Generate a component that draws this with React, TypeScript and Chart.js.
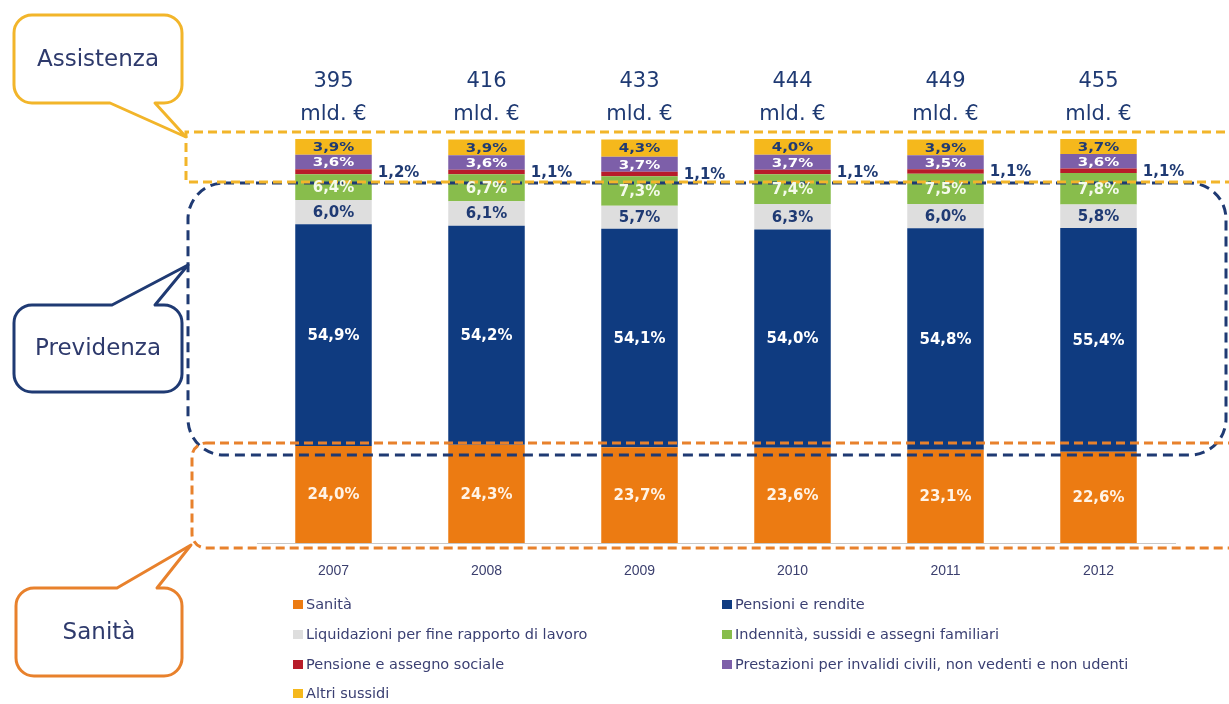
import React, { useEffect, useRef } from 'react';
import { Chart, registerables } from 'chart.js';

Chart.register(...registerables);

// ---- data ----
const years = ['2007', '2008', '2009', '2010', '2011', '2012'];
const totals = [395, 416, 433, 444, 449, 455];
const totalUnit = 'mld. €';

const sanita = [24.0, 24.3, 23.7, 23.6, 23.1, 22.6];
const pensioni = [54.9, 54.2, 54.1, 54.0, 54.8, 55.4];
const liquidazioni = [6.0, 6.1, 5.7, 6.3, 6.0, 5.8];
const indennita = [6.4, 6.7, 7.3, 7.4, 7.5, 7.8];
const pensioneSociale = [1.2, 1.1, 1.1, 1.1, 1.1, 1.1];
const prestazioni = [3.6, 3.6, 3.7, 3.7, 3.5, 3.6];
const altri = [3.9, 3.9, 4.3, 4.0, 3.9, 3.7];

const seriesNames = [
  'Sanità',
  'Pensioni e rendite',
  'Liquidazioni per fine rapporto di lavoro',
  'Indennità, sussidi e assegni familiari',
  'Pensione e assegno sociale',
  'Prestazioni per invalidi civili, non vedenti e non udenti',
  'Altri sussidi',
];
const calloutTexts = ['Assistenza', 'Previdenza', 'Sanità'];

// ---- styles ----
const NAVY = '#1F3A73';
const TEXT_NAVY = '#2E3A6C';
const YELLOW_LINE = '#F2B52A';
const ORANGE_LINE = '#E8812C';
const FONT = '"DejaVu Sans", Verdana, sans-serif';

const fmt = (v: number) => v.toFixed(1).replace('.', ',') + '%';

function roundRectPath(ctx: CanvasRenderingContext2D, x: number, y: number, w: number, h: number, r: number) {
  ctx.beginPath();
  ctx.moveTo(x + r, y);
  ctx.lineTo(x + w - r, y);
  ctx.arcTo(x + w, y, x + w, y + r, r);
  ctx.lineTo(x + w, y + h - r);
  ctx.arcTo(x + w, y + h, x + w - r, y + h, r);
  ctx.lineTo(x + r, y + h);
  ctx.arcTo(x, y + h, x, y + h - r, r);
  ctx.lineTo(x, y + r);
  ctx.arcTo(x, y, x + r, y, r);
  ctx.closePath();
}

function callout(
  ctx: CanvasRenderingContext2D,
  x: number, y: number, w: number, h: number, r: number,
  side: 'top' | 'bottom', t1: number, t2: number, tipX: number, tipY: number,
  color: string, text: string
) {
  ctx.save();
  ctx.beginPath();
  ctx.moveTo(x + r, y);
  if (side === 'top') {
    ctx.lineTo(t1, y);
    ctx.lineTo(tipX, tipY);
    ctx.lineTo(t2, y);
  }
  ctx.lineTo(x + w - r, y);
  ctx.arcTo(x + w, y, x + w, y + r, r);
  ctx.lineTo(x + w, y + h - r);
  ctx.arcTo(x + w, y + h, x + w - r, y + h, r);
  if (side === 'bottom') {
    ctx.lineTo(t2, y + h);
    ctx.lineTo(tipX, tipY);
    ctx.lineTo(t1, y + h);
  }
  ctx.lineTo(x + r, y + h);
  ctx.arcTo(x, y + h, x, y + h - r, r);
  ctx.lineTo(x, y + r);
  ctx.arcTo(x, y, x + r, y, r);
  ctx.closePath();
  ctx.fillStyle = '#ffffff';
  ctx.fill();
  ctx.lineWidth = 3;
  ctx.lineJoin = 'round';
  ctx.strokeStyle = color;
  ctx.setLineDash([]);
  ctx.stroke();
  ctx.fillStyle = TEXT_NAVY;
  ctx.font = `23px ${FONT}`;
  ctx.textAlign = 'center';
  ctx.textBaseline = 'middle';
  ctx.fillText(text, x + w / 2, y + h / 2 + 1);
  ctx.restore();
}

const overlayPlugin = {
  id: 'overlay',
  afterDatasetsDraw(chart: any) {
    const ctx: CanvasRenderingContext2D = chart.ctx;
    const W = chart.width;
    ctx.save();

    // dashed group boxes
    ctx.lineWidth = 3;
    // Previdenza (navy)
    ctx.strokeStyle = NAVY;
    ctx.setLineDash([10, 6]);
    roundRectPath(ctx, 188, 183, 1038, 272, 36);
    ctx.stroke();
    // Assistenza (yellow)
    ctx.strokeStyle = YELLOW_LINE;
    ctx.setLineDash([9, 5]);
    ctx.beginPath();
    ctx.moveTo(W + 10, 132);
    ctx.lineTo(186, 132);
    ctx.lineTo(186, 182);
    ctx.lineTo(W + 10, 182);
    ctx.stroke();
    // Sanità (orange)
    ctx.strokeStyle = ORANGE_LINE;
    roundRectPath(ctx, 192, 443, W + 20 - 192, 105, 14);
    ctx.stroke();
    ctx.setLineDash([]);

    // segment labels
    chart.data.datasets.forEach((ds: any, i: number) => {
      const meta = chart.getDatasetMeta(i);
      meta.data.forEach((bar: any, j: number) => {
        const { x, y, base, width } = bar.getProps(['x', 'y', 'base', 'width'], true);
        const cy = (y + base) / 2;
        const small = ds.data[j] < 5;
        ctx.save();
        ctx.font = `bold 15px ${FONT}`;
        ctx.textBaseline = 'middle';
        ctx.fillStyle = ds.labelColor;
        const tx = ds.labelOutside ? x + width / 2 + 6 : x;
        ctx.textAlign = ds.labelOutside ? 'left' : 'center';
        ctx.translate(tx, cy + 1);
        if (small && !ds.labelOutside) ctx.scale(1, 0.86);
        ctx.fillText(fmt(ds.data[j]), 0, 0);
        ctx.restore();
      });
    });

    // totals above bars
    const yTop = chart.scales.y.getPixelForValue(100);
    const lastMeta = chart.getDatasetMeta(chart.data.datasets.length - 1);
    lastMeta.data.forEach((bar: any, j: number) => {
      ctx.font = `21px ${FONT}`;
      ctx.fillStyle = NAVY;
      ctx.textAlign = 'center';
      ctx.textBaseline = 'middle';
      ctx.fillText(String(totals[j]), bar.x, yTop - 57);
      ctx.fillText(totalUnit, bar.x, yTop - 24);
    });
    ctx.restore();
  },
  afterDraw(chart: any) {
    const ctx: CanvasRenderingContext2D = chart.ctx;
    // callouts
    callout(ctx, 14, 15, 168, 88, 18, 'bottom', 110, 155, 186, 137, YELLOW_LINE, calloutTexts[0]);
    callout(ctx, 14, 305, 168, 87, 18, 'top', 112, 155, 188, 265, NAVY, calloutTexts[1]);
    callout(ctx, 16, 588, 166, 88, 18, 'top', 117, 157, 191, 545, ORANGE_LINE, calloutTexts[2]);

    // legend (2 columns, row-major)
    ctx.save();
    const colX = [293, 722];
    const rowY = [604, 634, 664, 693];
    chart.data.datasets.forEach((ds: any, i: number) => {
      const cx = colX[i % 2];
      const cy = rowY[Math.floor(i / 2)];
      ctx.fillStyle = ds.backgroundColor;
      ctx.fillRect(cx, cy - 4, 10, 9);
      ctx.font = `14.5px ${FONT}`;
      ctx.fillStyle = '#3A3F72';
      ctx.textAlign = 'left';
      ctx.textBaseline = 'middle';
      ctx.fillText(ds.label, cx + 13, cy + 1);
    });
    ctx.restore();
  },
};

export default function App() {
  const ref = useRef<HTMLCanvasElement>(null);
  useEffect(() => {
    if (!ref.current) return;
    const mk = (label: string, data: number[], color: string, labelColor: string, labelOutside = false) => ({
      label, data, backgroundColor: color, borderWidth: 0, labelColor, labelOutside,
      barPercentage: 0.5, categoryPercentage: 1.0,
    });
    const chart = new Chart(ref.current, {
      type: 'bar',
      data: {
        labels: years,
        datasets: [
          mk(seriesNames[0], sanita, '#EC7B12', '#FFF3E6'),
          mk(seriesNames[1], pensioni, '#0F3B80', '#FFFFFF'),
          mk(seriesNames[2], liquidazioni, '#DEDEDE', NAVY),
          mk(seriesNames[3], indennita, '#88BD4C', '#F4FAEA'),
          mk(seriesNames[4], pensioneSociale, '#B71C2A', NAVY, true),
          mk(seriesNames[5], prestazioni, '#7D5FA9', '#FFFFFF'),
          mk(seriesNames[6], altri, '#F5B81C', NAVY),
        ] as any,
      },
      options: {
        responsive: false,
        animation: false,
        events: [],
        layout: { padding: { left: 257, right: 54, top: 139, bottom: 120 } },
        plugins: { legend: { display: false }, title: { display: false }, tooltip: { enabled: false } },
        scales: {
          x: {
            stacked: true,
            grid: { display: false, drawTicks: false },
            border: { display: true, color: '#C8C8C8', width: 1 },
            ticks: { color: '#3B3F6E', padding: 20, font: { family: '"Liberation Sans", Arial, sans-serif', size: 14 } },
            afterFit: (scale: any) => { scale.height = 41; },
          },
          y: { stacked: true, display: false, min: 0, max: 100 },
        },
      },
      plugins: [overlayPlugin],
    });
    return () => chart.destroy();
  }, []);
  return (
    <div style={{ position: 'absolute', left: 0, top: 0, width: 1229, height: 704, background: '#fff' }}>
      <canvas ref={ref} width={1229} height={704} style={{ display: 'block' }} />
    </div>
  );
}
